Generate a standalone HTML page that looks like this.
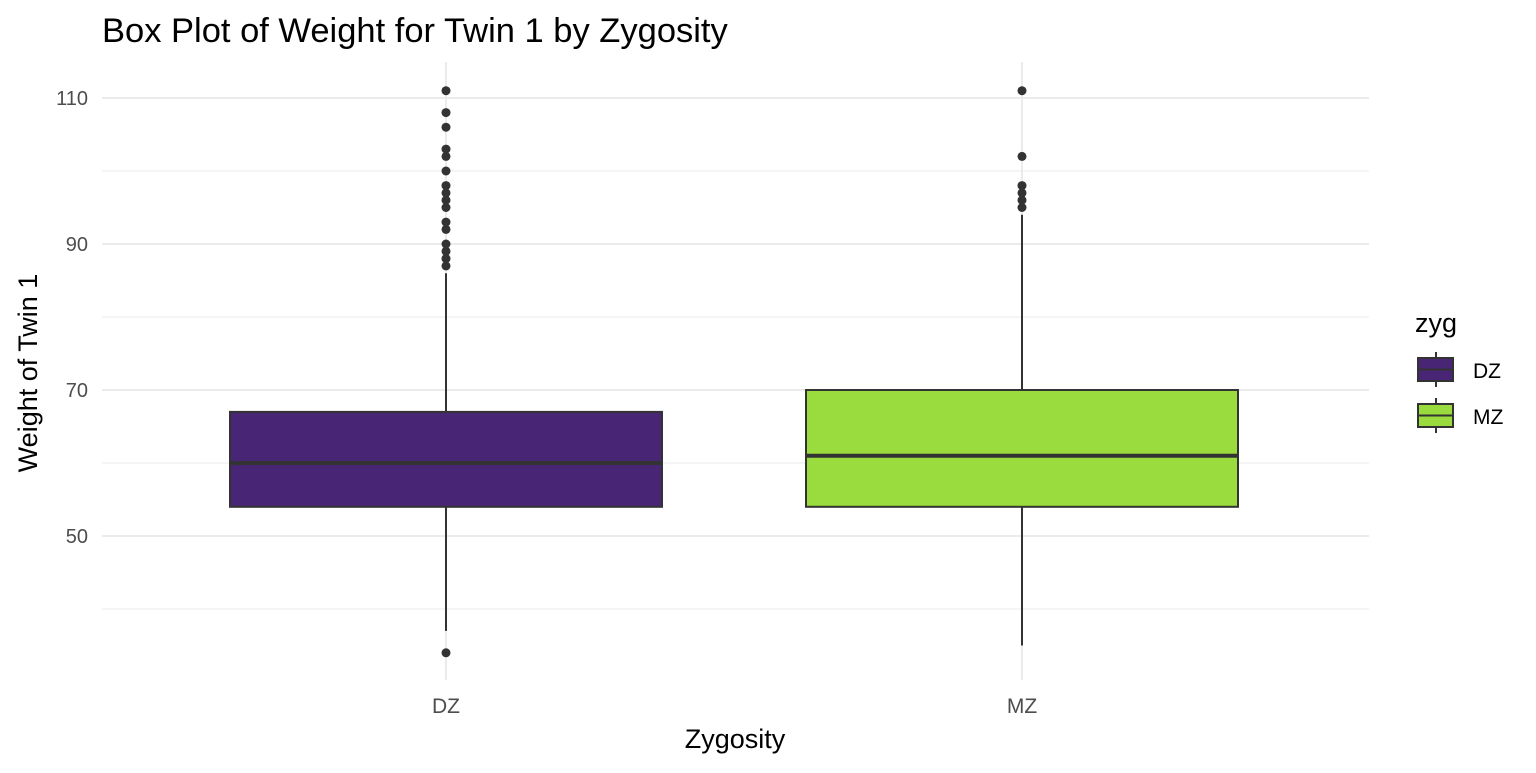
<!DOCTYPE html>
<html><head><meta charset="utf-8"><style>
body{margin:0;background:#fff;font-family:"Liberation Sans",sans-serif}
</style></head><body>
<svg width="1536" height="768" xmlns="http://www.w3.org/2000/svg" id="chart" font-family="Liberation Sans, sans-serif">
<text x="102" y="42" font-size="34.5" fill="#000">Box Plot of Weight for Twin 1 by Zygosity</text>
<g id="grid"></g><g id="marks"></g>
<text x="735" y="748" font-size="27" text-anchor="middle">Zygosity</text>
<text transform="translate(37,373) rotate(-90)" font-size="27" text-anchor="middle">Weight of Twin 1</text>
<g>
<text x="1415" y="332" font-size="27">zyg</text>
<g>
<line x1="1436" y1="352" x2="1436" y2="387" stroke="#333" stroke-width="2"/>
<rect x="1418" y="358" width="35" height="23" fill="#482575" stroke="#333" stroke-width="2"/>
<line x1="1418" y1="369.5" x2="1453" y2="369.5" stroke="#333" stroke-width="2"/>
<text x="1473" y="378" font-size="21">DZ</text></g>
<g>
<line x1="1436" y1="398" x2="1436" y2="433" stroke="#333" stroke-width="2"/>
<rect x="1418" y="404" width="35" height="23" fill="#9ADB3D" stroke="#333" stroke-width="2"/>
<line x1="1418" y1="415.5" x2="1453" y2="415.5" stroke="#333" stroke-width="2"/>
<text x="1473" y="424" font-size="21">MZ</text></g>
</g>
</svg>
<script>
const categories=["DZ","MZ"];
const q1=[54,54];
const medians=[60,61];
const q3=[67,70];
const whiskerLow=[37,35];
const whiskerHigh=[86,94];
const outliersDZ=[111,108,106,103,102,100,98,97,96,95,93,92,90,89,88,87,34];
const outliersMZ=[111,102,98,97,96,95];
const outliers=[outliersDZ,outliersMZ];
const fills=["#482575","#9ADB3D"];
const yTicks=[50,70,90,110];
const yMinor=[40,60,80,100];

const NS="http://www.w3.org/2000/svg";
const y=v=>536-(v-50)*7.3;
const x=i=>446+i*576;
const halfW=216;
const L=102,R=1369,T=62,B=680;
function mk(t,a,p){const e=document.createElementNS(NS,t);for(const k in a)e.setAttribute(k,a[k]);p.appendChild(e);return e;}
const grid=document.getElementById('grid'),marks=document.getElementById('marks');
yMinor.forEach(v=>{const l=mk('line',{x1:L,x2:R,y1:y(v),y2:y(v),stroke:'#ebebeb','stroke-width':1},grid);

});
yTicks.forEach(v=>{const l=mk('line',{x1:L,x2:R,y1:y(v),y2:y(v),stroke:'#ebebeb','stroke-width':2},grid);


const t=mk('text',{x:88,y:y(v)+7,'font-size':20,fill:'#4d4d4d','text-anchor':'end'},grid);t.textContent=v;

});
categories.forEach((c,i)=>{const l=mk('line',{x1:x(i),x2:x(i),y1:T,y2:B,stroke:'#ebebeb','stroke-width':2},grid);


const t=mk('text',{x:x(i),y:713,'font-size':21,fill:'#4d4d4d','text-anchor':'middle'},grid);t.textContent=c;


const g=mk('g',{},marks);


mk('line',{x1:x(i),x2:x(i),y1:y(whiskerHigh[i]),y2:y(q3[i]),stroke:'#333','stroke-width':2},g);
mk('line',{x1:x(i),x2:x(i),y1:y(q1[i]),y2:y(whiskerLow[i]),stroke:'#333','stroke-width':2},g);
mk('rect',{x:x(i)-halfW,y:y(q3[i]),width:2*halfW,height:y(q1[i])-y(q3[i]),fill:fills[i],stroke:'#333','stroke-width':2},g);
mk('line',{x1:x(i)-halfW,x2:x(i)+halfW,y1:y(medians[i]),y2:y(medians[i]),stroke:'#333','stroke-width':4},g);
outliers[i].forEach(v=>{const p=mk('circle',{cx:x(i),cy:y(v),r:4.5,fill:'#333'},g);

});
});
</script>
</body></html>
